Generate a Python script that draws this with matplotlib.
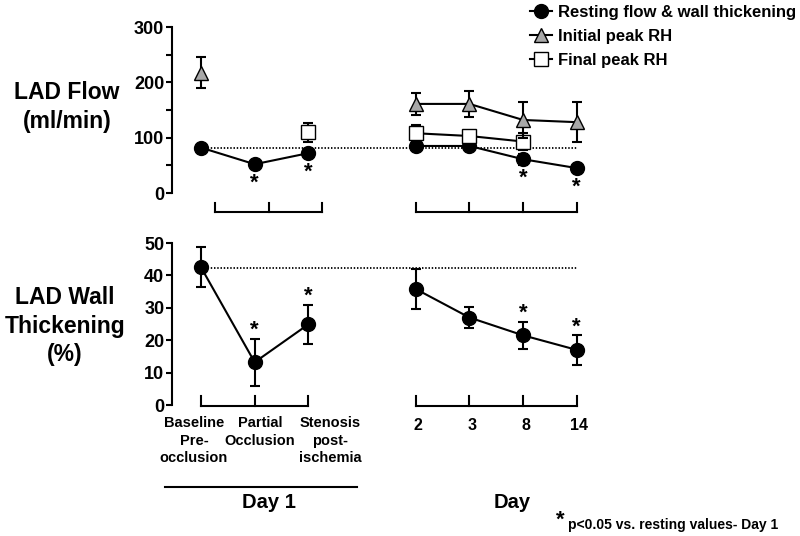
import matplotlib
matplotlib.use("Agg")
import matplotlib.pyplot as plt
from matplotlib.lines import Line2D

plt.rcParams['font.family'] = ['Liberation Sans', 'DejaVu Sans']
plt.rcParams['font.weight'] = 'bold'

# x positions: Day 1 conditions, then days 2, 3, 8, 14
day1_x = [0, 1, 2]
days_x = [4, 5, 6, 7]
day1_labels = ['Baseline\nPre-\nocclusion', 'Partial\nOcclusion', 'Stenosis\npost-\nischemia']
day_labels = ['2', '3', '8', '14']

# LAD flow (ml/min)
rest_flow_d1 = [82, 52, 72]
rest_flow_d1_err = [3, 3, 3]
rest_flow_days = [85, 85, 61, 45]
rest_flow_days_err = [8, 6, 10, 4]
init_rh_d1 = [217]
init_rh_d1_err = [28]
init_rh_days = [161, 161, 132, 128]
init_rh_days_err = [20, 23, 33, 36]
final_rh_d1 = [110]
final_rh_d1_err = [17]
final_rh_days = [108, 103, 93]
final_rh_days_err = [14, 6, 16]
flow_baseline = 82

# LAD wall thickening (%)
wt_d1 = [42.5, 13.2, 24.9]
wt_d1_err = [6.2, 7.2, 6.1]
wt_days = [35.8, 27.0, 21.5, 17.0]
wt_days_err = [6.3, 3.1, 4.2, 4.5]
wt_baseline = 42.3

# which points are significant (*)
sig_d1 = [1, 2]
sig_days = [2, 3]

W, H = 800, 536
fig = plt.figure(figsize=(W / 100, H / 100), dpi=100)


def px_axes(left, top, width, height):
    return fig.add_axes([left / W, 1 - (top + height) / H, width / W, height / H])


ax1 = px_axes(172, 27, 437, 166)
ax2 = px_axes(172, 243, 437, 162)

ebkw = dict(color='k', mec='k', lw=1.5, elinewidth=1.5, capsize=3.6, capthick=1.5, ms=10)

for ax in (ax1, ax2):
    ax.set_xlim(-0.54, 7.6)
    for s in ('top', 'right', 'bottom'):
        ax.spines[s].set_visible(False)
    ax.spines['left'].set_linewidth(1.5)
    ax.set_xticks([])
    ax.tick_params(axis='y', which='both', direction='out', width=1.5, length=4,
                   pad=1.5, labelsize=13)
    for t in ax.get_yticklabels():
        t.set_fontweight('bold')
    ax.patch.set_alpha(0)

# ---- top panel: flow
ax1.set_ylim(0, 300)
ax1.set_yticks([0, 100, 200, 300])
ax1.set_yticks([50, 150, 250], minor=True)
ax1.hlines(flow_baseline, 0, 7, colors='k', lw=1.3, linestyles=(0, (0.8, 1.0)), zorder=1)

ax1.errorbar(day1_x, rest_flow_d1, yerr=rest_flow_d1_err, fmt='-o', mfc='k', zorder=3, **ebkw)
ax1.errorbar(days_x, rest_flow_days, yerr=rest_flow_days_err, fmt='-o', mfc='k', zorder=3, **ebkw)
ax1.errorbar(days_x[:3], final_rh_days, yerr=final_rh_days_err, fmt='-s', mfc='white', zorder=4,
             **dict(ebkw, ms=9.5))
ax1.errorbar([day1_x[2]], final_rh_d1, yerr=final_rh_d1_err, fmt='-s', mfc='white', zorder=4,
             **dict(ebkw, ms=9.5))
ax1.errorbar([day1_x[0]], init_rh_d1, yerr=init_rh_d1_err, fmt='-^', mfc='#a8a8a8', zorder=5, **ebkw)
ax1.errorbar(days_x, init_rh_days, yerr=init_rh_days_err, fmt='-^', mfc='#a8a8a8', zorder=5, **ebkw)

for i in sig_d1:
    ax1.annotate('*', (day1_x[i], rest_flow_d1[i]), xytext=(0, -14), textcoords='offset points',
                 ha='center', va='center', fontsize=16, fontweight='bold')
for i in sig_days:
    ax1.annotate('*', (days_x[i], rest_flow_days[i]), xytext=(0, -14), textcoords='offset points',
                 ha='center', va='center', fontsize=16, fontweight='bold')

# ---- bottom panel: wall thickening
ax2.set_ylim(0, 50)
ax2.set_yticks([0, 10, 20, 30, 40, 50])
ax2.hlines(wt_baseline, 0, 7, colors='k', lw=1.3, linestyles=(0, (0.8, 1.0)), zorder=1)
ax2.errorbar(day1_x, wt_d1, yerr=wt_d1_err, fmt='-o', mfc='k', zorder=3, **ebkw)
ax2.errorbar(days_x, wt_days, yerr=wt_days_err, fmt='-o', mfc='k', zorder=3, **ebkw)

for i in sig_d1:
    ax2.annotate('*', (day1_x[i], wt_d1[i] + wt_d1_err[i]), xytext=(0, 6), textcoords='offset points',
                 ha='center', va='center', fontsize=16, fontweight='bold')
for i in sig_days:
    ax2.annotate('*', (days_x[i], wt_days[i] + wt_days_err[i]), xytext=(0, 6), textcoords='offset points',
                 ha='center', va='center', fontsize=16, fontweight='bold')


# brackets in place of x axes
def bracket(ax, xs, ybase, ytop):
    tr = ax.get_xaxis_transform()
    ax.plot([xs[0], xs[-1]], [ybase, ybase], color='k', lw=1.5, transform=tr, clip_on=False,
            solid_capstyle='projecting')
    for x in xs:
        ax.plot([x, x], [ybase, ytop], color='k', lw=1.5, transform=tr, clip_on=False)


bracket(ax1, [0.27, 1.27, 2.26], -0.114, -0.06)
bracket(ax1, days_x, -0.114, -0.06)
bracket(ax2, day1_x, -0.005, 0.058)
bracket(ax2, days_x, -0.005, 0.058)

# category labels
label_px = [194, 260, 330]
for lx, lab in zip(label_px, day1_labels):
    fig.text(lx / W, 1 - 416 / H, lab, ha='center', va='top', fontsize=10.5, fontweight='bold',
             linespacing=1.32)
for dx, lab in zip(days_x, day_labels):
    xp = ax2.transData.transform((dx, 0))[0]
    fig.text(xp / W + 0.003, 1 - 425 / H, lab, ha='center', va='center', fontsize=11.5, fontweight='bold')

fig.add_artist(Line2D([165 / W, 357 / W], [1 - 487 / H, 1 - 487 / H], color='k', lw=1.5))
fig.text(269 / W, 1 - 503 / H, 'Day 1', ha='center', va='center', fontsize=14.5, fontweight='bold')
fig.text(512 / W, 1 - 503 / H, 'Day', ha='center', va='center', fontsize=14.5, fontweight='bold')

fig.text(67 / W, 1 - 107 / H, 'LAD Flow\n(ml/min)', ha='center', va='center', fontsize=16.5,
         fontweight='bold', linespacing=1.28)
fig.text(65 / W, 1 - 326 / H, 'LAD Wall\nThickening\n(%)', ha='center', va='center', fontsize=16.5,
         fontweight='bold', linespacing=1.28)

fig.text(560 / W, 1 - 520 / H, '*', ha='center', va='center', fontsize=16, fontweight='bold')
fig.text(568 / W, 1 - 525 / H, 'p<0.05 vs. resting values- Day 1', ha='left', va='center',
         fontsize=10, fontweight='bold')

# legend
handles = [
    Line2D([], [], color='k', lw=1.5, marker='o', ms=10, mfc='k', mec='k'),
    Line2D([], [], color='k', lw=1.5, marker='^', ms=10, mfc='#a8a8a8', mec='k'),
    Line2D([], [], color='k', lw=1.5, marker='s', ms=9.5, mfc='white', mec='k'),
]
labels = ['Resting flow & wall thickening', 'Initial peak RH', 'Final peak RH']
fig.legend(handles, labels, loc='upper left', bbox_to_anchor=(530 / W, 1 - 5 / H),
           bbox_transform=fig.transFigure, frameon=False, borderpad=0, borderaxespad=0,
           handlelength=1.3, handletextpad=0.35, labelspacing=0.54,
           prop={'weight': 'bold', 'size': 12})

fig.savefig('out.png', dpi=100)
